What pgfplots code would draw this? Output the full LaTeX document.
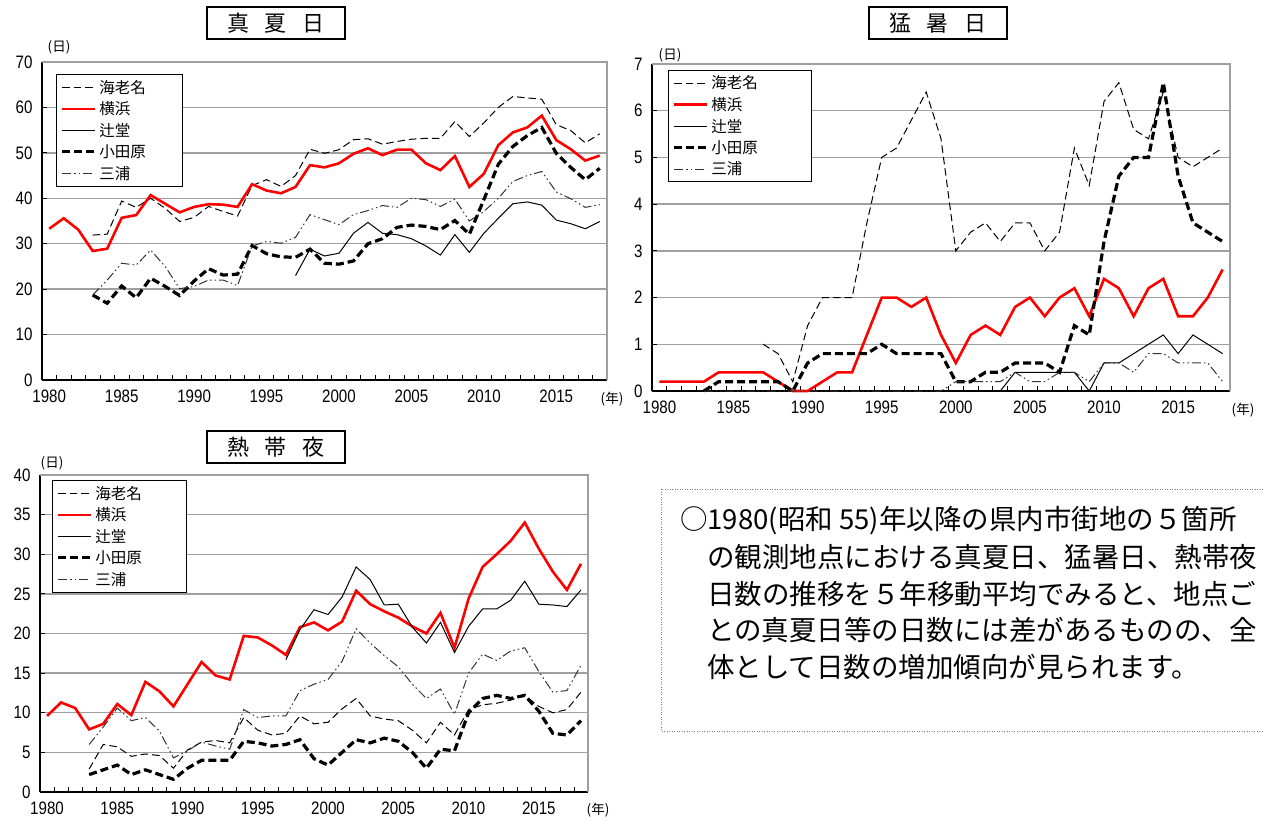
\documentclass[border=0pt]{standalone}
\usepackage{pgfplots}
\pgfplotsset{compat=1.18}
\usepackage{pgfplotstable}
\usepackage{fontspec}
\setmainfont{Noto Sans CJK JP}
\newfontfamily\jpfont{Noto Sans CJK JP}
\newfontfamily\tickfont[FakeStretch=0.84]{Liberation Sans}

\pgfplotstableread{
year ebina yoko tsuji oda miura
1980 nan 33.3 nan nan nan
1981 nan 35.6 nan nan nan
1982 nan 33.1 nan nan nan
1983 31.9 28.4 nan 18.7 18.7
1984 32.1 28.9 nan 16.9 22.0
1985 39.4 35.7 nan 20.7 25.7
1986 38.0 36.3 nan 18.1 25.3
1987 40.0 40.7 nan 22.4 28.6
1988 37.8 38.8 nan 20.6 25.0
1989 34.9 36.9 nan 18.6 20.1
1990 35.8 38.1 nan 21.8 20.6
1991 38.2 38.7 nan 24.5 22.0
1992 37.1 38.6 nan 23.1 22.0
1993 36.1 38.1 nan 23.3 20.8
1994 42.8 43.1 nan 29.6 29.5
1995 44.1 41.7 nan 27.8 30.5
1996 42.6 41.1 nan 27.1 30.1
1997 45.0 42.5 23.0 27.0 31.4
1998 50.8 47.3 28.8 28.8 36.4
1999 49.9 46.8 27.3 25.7 35.3
2000 50.7 47.7 27.9 25.5 34.2
2001 52.9 49.8 32.3 26.2 36.4
2002 53.1 51.0 34.7 30.0 37.3
2003 51.9 49.5 32.3 31.1 38.4
2004 52.5 50.7 32.0 33.6 38.0
2005 53.0 50.7 31.1 34.1 40.0
2006 53.2 47.7 29.5 33.8 39.7
2007 53.2 46.2 27.5 33.1 38.2
2008 56.9 49.3 32.0 35.1 39.8
2009 53.6 42.5 28.1 32.1 35.0
2010 56.6 45.4 32.3 39.7 37.1
2011 60.0 51.7 35.6 47.5 40.0
2012 62.4 54.5 38.8 51.4 43.7
2013 62.1 55.6 39.2 53.8 45.0
2014 61.8 58.2 38.5 55.6 45.9
2015 56.2 52.8 35.2 49.9 41.4
2016 54.9 50.8 34.4 46.8 39.9
2017 52.2 48.3 33.3 44.1 38.0
2018 54.2 49.4 34.9 46.6 38.6
}\tabA

\pgfplotstableread{
year ebina yoko tsuji oda miura
1980 nan 0.2 nan nan nan
1981 nan 0.2 nan nan nan
1982 nan 0.2 nan nan nan
1983 nan 0.2 nan 0 0
1984 nan 0.4 nan 0.2 0
1985 nan 0.4 nan 0.2 0
1986 nan 0.4 nan 0.2 0
1987 1.0 0.4 nan 0.2 0
1988 0.8 0.2 nan 0.2 0
1989 0.2 0 nan 0 0
1990 1.4 0 nan 0.6 0
1991 2.0 0.2 nan 0.8 0
1992 2.0 0.4 nan 0.8 0
1993 2.0 0.4 nan 0.8 0
1994 3.6 1.2 nan 0.8 0
1995 5.0 2.0 nan 1.0 0
1996 5.2 2.0 nan 0.8 0
1997 5.8 1.8 0 0.8 0
1998 6.4 2.0 0 0.8 0
1999 5.4 1.2 0 0.8 0
2000 3.0 0.6 0 0.2 0.2
2001 3.4 1.2 0 0.2 0.2
2002 3.6 1.4 0 0.4 0.2
2003 3.2 1.2 0 0.4 0.2
2004 3.6 1.8 0.4 0.6 0.4
2005 3.6 2.0 0.4 0.6 0.2
2006 3.0 1.6 0.4 0.6 0.2
2007 3.4 2.0 0.4 0.4 0.4
2008 5.2 2.2 0.4 1.4 0.4
2009 4.4 1.6 0 1.2 0.2
2010 6.2 2.4 0.6 3.2 0.6
2011 6.6 2.2 0.6 4.6 0.6
2012 5.6 1.6 0.8 5.0 0.4
2013 5.4 2.2 1.0 5.0 0.8
2014 6.4 2.4 1.2 6.6 0.8
2015 5.0 1.6 0.8 4.6 0.6
2016 4.8 1.6 1.2 3.6 0.6
2017 5.0 2.0 1.0 3.4 0.6
2018 5.2 2.6 0.8 3.2 0.2
}\tabB

\pgfplotstableread{
year ebina yoko tsuji oda miura
1980 nan 9.6 nan nan nan
1981 nan 11.3 nan nan nan
1982 nan 10.6 nan nan nan
1983 2.9 7.9 nan 2.2 6.0
1984 6.0 8.6 nan 2.8 8.2
1985 5.7 11.1 nan 3.4 10.6
1986 4.5 9.7 nan 2.2 9.0
1987 4.8 13.9 nan 2.8 9.4
1988 4.6 12.7 nan 2.2 7.7
1989 3.0 10.8 nan 1.6 4.3
1990 5.3 13.6 nan 3.0 5.2
1991 6.3 16.4 nan 4.0 6.3
1992 6.5 14.7 nan 4.0 5.8
1993 6.2 14.2 nan 4.0 5.4
1994 9.4 19.7 nan 6.4 10.4
1995 7.8 19.5 nan 6.2 9.4
1996 7.2 18.5 nan 5.8 9.6
1997 7.4 17.3 16.7 6.0 9.6
1998 9.6 20.8 20.5 6.6 12.8
1999 8.6 21.4 23.0 4.2 13.6
2000 8.8 20.4 22.4 3.4 14.2
2001 10.5 21.5 24.6 5.0 16.5
2002 11.8 25.4 28.4 6.6 20.6
2003 9.6 23.7 26.8 6.2 18.8
2004 9.2 22.8 23.6 6.8 17.2
2005 9.0 22.0 23.7 6.4 15.8
2006 7.8 20.9 20.8 5.0 13.6
2007 6.2 20.0 18.8 3.0 11.8
2008 8.8 22.6 21.4 5.4 13.0
2009 7.2 18.2 17.6 5.2 9.8
2010 10.4 24.4 20.9 10.0 15.0
2011 11.0 28.4 23.1 11.8 17.4
2012 11.2 30.0 23.1 12.2 16.6
2013 11.6 31.7 24.2 11.8 17.8
2014 12.2 34.0 26.6 12.2 18.2
2015 10.8 30.7 23.7 10.2 15.2
2016 10.0 27.8 23.6 7.4 12.6
2017 10.4 25.5 23.4 7.2 12.8
2018 12.6 28.8 25.5 9.0 16.0
}\tabC

\pgfplotsset{
  ebina/.style={black, line width=1bp, dash pattern=on 7.5bp off 4bp},
  yoko/.style={color=red, line width=2.6bp},
  tsuji/.style={black, line width=1bp},
  oda/.style={black, line width=3.2bp, dash pattern=on 8bp off 4bp},
  miura/.style={black!80, line width=1bp, dash pattern=on 9bp off 3bp on 1.5bp off 3bp on 1.5bp off 3bp},
  panel/.style={
    scale only axis, clip=false,
    xmin=1979.5, xmax=2018.5,
    xtick={1979.5,1980.5,...,2018.5}, xticklabels={},
    extra x ticks={1980,1985,...,2015},
    extra x tick labels={1980,1985,1990,1995,2000,2005,2010,2015},
    extra x tick style={major tick length=0pt},
    xticklabel style={yshift=-6bp},
    yticklabel style={xshift=-6bp},
    axis x line*=bottom, axis y line*=left,
    axis line style={black, line width=1.3bp, -},
    tick align=inside, major tick length=5bp,
    tick style={black, line width=0.8bp},
    ymin=0, ymajorgrids, grid style={gray!75, line width=1.3bp},
    ticklabel style={font=\tickfont\fontsize{18bp}{21bp}\selectfont},
    /pgf/number format/assume math mode=true,
    legend cell align=left,
    legend image code/.code={\draw[##1] (0bp,0bp) -- (33bp,0bp);},
    legend style={anchor=north west, draw=black, line width=1bp, fill=white,
      inner xsep=4bp, inner ysep=3bp, row sep=2bp,
      font=\jpfont\fontsize{15.5bp}{17bp}\selectfont, nodes={inner sep=2.5bp}},
    after end axis/.append code={\draw[gray!75, line width=1.3bp] (rel axis cs:0,1) -- (rel axis cs:1,1) -- (rel axis cs:1,0);},
  },
}

\begin{document}
\begin{tikzpicture}
\useasboundingbox (0bp,0bp) rectangle (1263bp,-821bp);

% ---------- 真夏日 ----------
\begin{axis}[panel, at={(42bp,-62bp)}, anchor=north west, width=565bp, height=318bp,
  ymax=70, ytick={0,10,...,70}, legend style={at={(0.025,0.962)}}]
\addplot[ebina] table[x=year,y=ebina]{\tabA}; \addlegendentry{\makebox[77bp][l]{海老名}}
\addplot[yoko]  table[x=year,y=yoko]{\tabA};  \addlegendentry{横浜}
\addplot[tsuji] table[x=year,y=tsuji]{\tabA}; \addlegendentry{辻堂}
\addplot[oda]   table[x=year,y=oda]{\tabA};   \addlegendentry{小田原}
\addplot[miura] table[x=year,y=miura]{\tabA}; \addlegendentry{三浦}
\end{axis}

% ---------- 猛暑日 ----------
\begin{axis}[panel, at={(652bp,-64bp)}, anchor=north west, width=578bp, height=327bp,
  ymax=7, ytick={0,1,...,7}, legend style={at={(0.028,0.982)}}]
\addplot[ebina] table[x=year,y=ebina]{\tabB}; \addlegendentry{\makebox[94bp][l]{海老名}}
\addplot[yoko]  table[x=year,y=yoko]{\tabB};  \addlegendentry{横浜}
\addplot[tsuji] table[x=year,y=tsuji]{\tabB}; \addlegendentry{辻堂}
\addplot[oda]   table[x=year,y=oda]{\tabB};   \addlegendentry{小田原}
\addplot[miura] table[x=year,y=miura]{\tabB}; \addlegendentry{三浦}
\end{axis}

% ---------- 熱帯夜 ----------
\begin{axis}[panel, at={(40bp,-475bp)}, anchor=north west, width=548bp, height=317bp,
  ymax=40, ytick={0,5,...,40}, legend style={at={(0.022,0.984)}}]
\addplot[ebina] table[x=year,y=ebina]{\tabC}; \addlegendentry{\makebox[85bp][l]{海老名}}
\addplot[yoko]  table[x=year,y=yoko]{\tabC};  \addlegendentry{横浜}
\addplot[tsuji] table[x=year,y=tsuji]{\tabC}; \addlegendentry{辻堂}
\addplot[oda]   table[x=year,y=oda]{\tabC};   \addlegendentry{小田原}
\addplot[miura] table[x=year,y=miura]{\tabC}; \addlegendentry{三浦}
\end{axis}

\begin{scope}[x=1bp,y=1bp]
% titles
\tikzset{ttl/.style={draw, line width=2bp, minimum width=138bp, minimum height=32bp, inner sep=0pt,
  font=\jpfont\fontsize{22bp}{24bp}\selectfont}}
\node[ttl] at (276,-23) {真\hspace{16bp}夏\hspace{16bp}日};
\node[ttl] at (938,-23) {猛\hspace{16bp}暑\hspace{16bp}日};
\node[ttl] at (276,-447) {熱\hspace{16bp}帯\hspace{16bp}夜};
% unit labels
\tikzset{unit/.style={inner sep=0pt, font=\jpfont\fontsize{13.5bp}{15bp}\selectfont}}
\node[unit] at (59,-47) {(日)};
\node[unit] at (670,-55) {(日)};
\node[unit] at (52,-463) {(日)};
\node[unit] at (612,-399) {(年)};
\node[unit] at (1243,-410) {(年)};
\node[unit] at (598,-810) {(年)};
% text box
\draw[gray, line width=1bp, dash pattern=on 1bp off 1.5bp] (1268,-489) -- (661,-489) -- (661,-731) -- (1268,-731);
\tikzset{txt/.style={anchor=west, inner sep=0pt, font=\jpfont\fontsize{27.5bp}{30bp}\selectfont}}
\node[txt] at (680,-521) {○1980(昭和 55)年以降の県内市街地の５箇所};
\node[txt] at (707,-557) {の観測地点における真夏日、猛暑日、熱帯夜};
\node[txt] at (707,-594) {日数の推移を５年移動平均でみると、地点ご};
\node[txt] at (707,-630) {との真夏日等の日数には差があるものの、全};
\node[txt] at (707,-667) {体として日数の増加傾向が見られます。};
\end{scope}
\end{tikzpicture}
\end{document}
